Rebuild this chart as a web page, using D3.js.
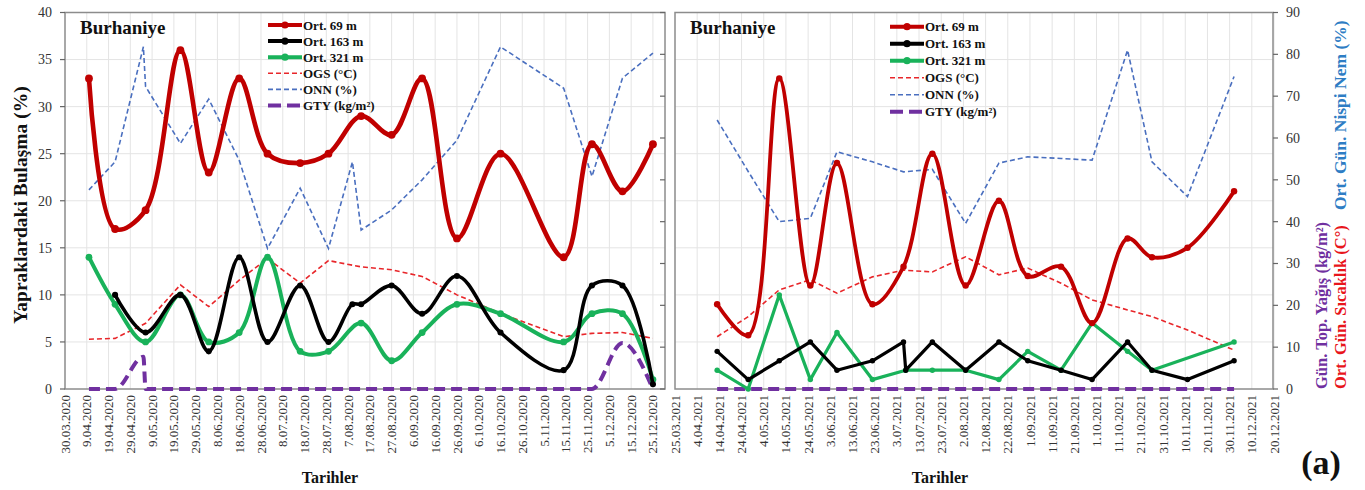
<!DOCTYPE html>
<html>
<head>
<meta charset="utf-8">
<script src="https://cdn.jsdelivr.net/npm/d3@7"></script>
<style>
  body { margin: 0; background: #fff; }
  svg { display: block; }
  text { font-family: "Liberation Serif", "Times New Roman", serif; }
</style>
</head>
<body>
<svg id="chart" width="1365" height="490"></svg>
<script>
// ---- Tick labels (every 10 days) ----
const leftTickLabels = ["30.03.2020","9.04.2020","19.04.2020","29.04.2020","9.05.2020","19.05.2020","29.05.2020","8.06.2020","18.06.2020","28.06.2020","8.07.2020","18.07.2020","28.07.2020","7.08.2020","17.08.2020","27.08.2020","6.09.2020","16.09.2020","26.09.2020","6.10.2020","16.10.2020","26.10.2020","5.11.2020","15.11.2020","25.11.2020","5.12.2020","15.12.2020","25.12.2020"];
const rightTickLabels = ["25.03.2021","4.04.2021","14.04.2021","24.04.2021","4.05.2021","14.05.2021","24.05.2021","3.06.2021","13.06.2021","23.06.2021","3.07.2021","13.07.2021","23.07.2021","2.08.2021","12.08.2021","22.08.2021","1.09.2021","11.09.2021","21.09.2021","1.10.2021","11.10.2021","21.10.2021","31.10.2021","10.11.2021","20.11.2021","30.11.2021","10.12.2021","20.12.2021"];
const primaryTicks = [0, 5, 10, 15, 20, 25, 30, 35, 40];
const secondaryTicks = [0, 10, 20, 30, 40, 50, 60, 70, 80, 90];

// ---- 2020 sampling dates and measurements ----
const dates2020 = ["10.04.2020","22.04.2020","5.05.2020","6.05.2020","22.05.2020","4.06.2020","18.06.2020","1.07.2020","16.07.2020","29.07.2020","9.08.2020","13.08.2020","27.08.2020","10.09.2020","26.09.2020","16.10.2020","14.11.2020","27.11.2020","11.12.2020","25.12.2020"];
const ort69_2020  = [33, 17, null, 19, 36, 23, 33, 25, 24, 25, null, 29, 27, 33, 16, 25, 14, 26, 21, 26];
const ort163_2020 = [null, 10, null, 6, 10, 4, 14, 5, 11, 5, 9, 9, 11, 8, 12, 6, 2, 11, 11, 0.5];
const ort321_2020 = [14, 9, null, 5, 10, 5, 6, 14, 4, 4, null, 7, 3, 6, 9, 8, 5, 8, 8, 1];
const ogs_2020    = [11.9, 12.1, null, 15.7, 24.9, 19.7, 26, 31.2, 25.3, 30.7, null, 29.2, 28.5, 26.9, 22.5, 18.1, 12.5, 13.3, 13.5, 12.1];
const onn_2020    = [47.6, 54.3, 81.8, 72.3, 58.7, 69.3, 54.7, 33.6, 48, 33.6, 54.3, 38, 42.8, 50, 59.5, 81.8, 71.9, 50.8, 74.3, 80.3];
const gty_2020    = [0, 0, 7.7, 0, 0, 0, 0, 0, 0, 0, null, 0, 0, 0, 0, 0, 0, 0, 11, 0];

// ---- 2021 sampling dates and measurements ----
const dates2021 = ["13.04.2021","27.04.2021","11.05.2021","25.05.2021","6.06.2021","22.06.2021","6.07.2021","7.07.2021","19.07.2021","3.08.2021","18.08.2021","31.08.2021","15.09.2021","29.09.2021","15.10.2021","26.10.2021","11.11.2021","2.12.2021"];
const ort69_2021  = [9, 5.7, 33, 11, 24, 9, 13, null, 25, 11, 20, 12, 13, 7, 16, 14, 15, 21];
const ort163_2021 = [4, 1, 3, 5, 2, 3, 5, 2, 5, 2, 5, 3, 2, 1, 5, 2, 1, 3];
const ort321_2021 = [2, 0, 10, 1, 6, 1, null, 2, 2, 2, 1, 4, 2, 7, 4, 2, null, 5];
const ogs_2021    = [12.5, 17.3, 23.7, 26.1, 22.9, 26.8, 28.4, null, 28.0, 31.6, 27.3, 28.9, 25.3, 21.3, 18.9, 17.3, 14.1, 9.3];
const onn_2021    = [64.3, 52, 40.0, 40.8, 56.7, 54.3, 51.9, null, 52.5, 39.6, 54.0, 55.5, 55.1, 54.7, 81.0, 54.3, 46.0, 74.7];
const gty_2021    = [0, 0, 0, 0, 0, 0, 0, null, 0, 0, 0, 0, 0, 0, 0, 0, 0, 0];

const legendLabels = ["Ort. 69 m", "Ort. 163 m", "Ort. 321 m", "OGS (°C)", "ONN (%)", "GTY (kg/m²)"];

// ---- helpers ----
const parseDate = s => { const [d, m, y] = s.split(".").map(Number); return new Date(Date.UTC(y, m - 1, d)); };
const svg = d3.select("#chart");

const plotTop = 12.5, plotBottom = 389;
const yP = d3.scaleLinear().domain([0, 40]).range([plotBottom, plotTop]);
const yS = d3.scaleLinear().domain([0, 90]).range([plotBottom, plotTop]);

const smooth = d3.curveCatmullRom.alpha(0.5);

function drawPanel(cfg) {
  const x = d3.scaleUtc().domain(cfg.domain.map(parseDate)).range([cfg.x0, cfg.x1]);
  const g = svg.append("g");
  const xr = cfg.frameRight;

  // gridlines
  g.append("g").selectAll("line").data(primaryTicks.slice(1)).join("line")
    .attr("x1", cfg.x0).attr("x2", xr).attr("y1", d => yP(d)).attr("y2", d => yP(d))
    .attr("stroke", "#e4e4e4").attr("stroke-width", 1);
  const tickDates = cfg.ticks.map(parseDate);
  g.append("g").selectAll("line").data(tickDates.slice(1)).join("line")
    .attr("x1", d => x(d)).attr("x2", d => x(d)).attr("y1", plotTop).attr("y2", plotBottom)
    .attr("stroke", "#e4e4e4").attr("stroke-width", 1);

  // frame
  g.append("rect").attr("x", cfg.x0).attr("y", plotTop).attr("width", xr - cfg.x0).attr("height", plotBottom - plotTop)
    .attr("fill", "none").attr("stroke", "#8c8c8c").attr("stroke-width", 1.5);

  // x tick labels
  g.append("g").selectAll("text").data(cfg.ticks).join("text")
    .attr("transform", d => `translate(${x(parseDate(d))},395) rotate(-90)`)
    .attr("text-anchor", "end").attr("dy", "0.35em")
    .attr("font-size", 13).attr("fill", "#333").text(d => d);

  // secondary axis ticks
  g.append("g").selectAll("line").data(secondaryTicks).join("line")
    .attr("x1", xr).attr("x2", xr + cfg.secTickDir * 5).attr("y1", d => yS(d)).attr("y2", d => yS(d))
    .attr("stroke", "#666").attr("stroke-width", 1.2);

  const dates = cfg.dates.map(parseDate);
  const pts = vals => vals.map((v, i) => ({ d: dates[i], v })).filter(p => p.v !== null);
  const lineFor = (scale, curve) => d3.line().x(p => x(p.d)).y(p => scale(p.v)).curve(curve);

  // weather series on secondary scale
  g.append("path").datum(pts(cfg.onn)).attr("d", lineFor(yS, d3.curveLinear))
    .attr("fill", "none").attr("stroke", "#4a6fbf").attr("stroke-width", 1.6).attr("stroke-dasharray", "5,3");
  g.append("path").datum(pts(cfg.ogs)).attr("d", lineFor(yS, d3.curveLinear))
    .attr("fill", "none").attr("stroke", "#e8262a").attr("stroke-width", 1.6).attr("stroke-dasharray", "5,3");
  g.append("path").datum(pts(cfg.gty)).attr("d", lineFor(yS, d3.curveMonotoneX))
    .attr("fill", "none").attr("stroke", "#7030a0").attr("stroke-width", 4).attr("stroke-dasharray", "11,6");

  // infection series on primary scale
  const series = [
    { vals: cfg.ort321, color: "#19b25a", w: cfg.w321, curve: cfg.curveOthers },
    { vals: cfg.ort163, color: "#000000", w: cfg.w163, curve: cfg.curveOthers },
    { vals: cfg.ort69,  color: "#c00000", w: cfg.w69,  curve: smooth }
  ];
  series.forEach(s => {
    const p = pts(s.vals);
    g.append("path").datum(p).attr("d", lineFor(yP, s.curve))
      .attr("fill", "none").attr("stroke", s.color).attr("stroke-width", s.w)
      .attr("stroke-linejoin", "round").attr("stroke-linecap", "round");
    g.append("g").selectAll("circle").data(p).join("circle")
      .attr("cx", q => x(q.d)).attr("cy", q => yP(q.v)).attr("r", s.w * 0.85)
      .attr("fill", s.color);
  });

  // location label
  g.append("text").attr("x", cfg.x0 + 15).attr("y", 34).attr("font-size", 19).attr("font-weight", "bold")
    .attr("fill", "#111").text("Burhaniye");

  // legend
  const lg = g.append("g");
  const lx = cfg.legendX, ly = cfg.legendY, step = cfg.legendStep;
  const styles = [
    { c: "#c00000", w: 4, marker: true },
    { c: "#000", w: 4, marker: true },
    { c: "#19b25a", w: 4, marker: true },
    { c: "#e8262a", w: 1.6, dash: "5,3" },
    { c: "#4a6fbf", w: 1.6, dash: "5,3" },
    { c: "#7030a0", w: 4, dash: "13,6" }
  ];
  legendLabels.forEach((lab, i) => {
    const yy = ly + i * step, st = styles[i];
    lg.append("line").attr("x1", lx).attr("x2", lx + 34).attr("y1", yy).attr("y2", yy)
      .attr("stroke", st.c).attr("stroke-width", st.w).attr("stroke-dasharray", st.dash || null);
    if (st.marker) lg.append("circle").attr("cx", lx + 17).attr("cy", yy).attr("r", 3.6).attr("fill", st.c);
    lg.append("text").attr("x", lx + 35).attr("y", yy).attr("dy", "0.35em")
      .attr("font-size", 13).attr("font-weight", "bold").attr("fill", "#111").text(lab);
  });

  // x axis title
  g.append("text").attr("x", cfg.titleX).attr("y", 483).attr("text-anchor", "middle")
    .attr("font-size", 16).attr("font-weight", "bold").attr("fill", "#111").text("Tarihler");
}

drawPanel({
  x0: 65, x1: 666, frameRight: 665, domain: ["30.03.2020", "31.12.2020"], ticks: leftTickLabels,
  dates: dates2020, ort69: ort69_2020, ort163: ort163_2020, ort321: ort321_2020,
  ogs: ogs_2020, onn: onn_2020, gty: gty_2020, w69: 4.6, w163: 3.6, w321: 4,
  curveOthers: smooth, secTickDir: -1,
  legendX: 268, legendY: 25, legendStep: 16.1, titleX: 330
});
drawPanel({
  x0: 675, x1: 1274, frameRight: 1273, domain: ["25.03.2021", "20.12.2021"], ticks: rightTickLabels,
  dates: dates2021, ort69: ort69_2021, ort163: ort163_2021, ort321: ort321_2021,
  ogs: ogs_2021, onn: onn_2021, gty: gty_2021, w69: 3.8, w163: 3.2, w321: 3.2,
  curveOthers: d3.curveLinear, secTickDir: 1,
  legendX: 890, legendY: 26.7, legendStep: 17, titleX: 940
});

// primary axis labels (left)
svg.append("g").selectAll("text").data(primaryTicks).join("text")
  .attr("x", 52).attr("y", d => yP(d)).attr("dy", "0.35em").attr("text-anchor", "end")
  .attr("font-size", 14).attr("fill", "#333").text(d => d);
svg.append("g").selectAll("line").data(primaryTicks).join("line")
  .attr("x1", 60).attr("x2", 65).attr("y1", d => yP(d)).attr("y2", d => yP(d))
  .attr("stroke", "#666").attr("stroke-width", 1.2);

// secondary axis labels (right)
svg.append("g").selectAll("text").data(secondaryTicks).join("text")
  .attr("x", 1286).attr("y", d => yS(d)).attr("dy", "0.35em").attr("text-anchor", "start")
  .attr("font-size", 14).attr("fill", "#333").text(d => d);

// axis titles
svg.append("text").attr("transform", "translate(27,205) rotate(-90)").attr("text-anchor", "middle")
  .attr("font-size", 19.5).attr("font-weight", "bold").attr("fill", "#111").text("Yapraklardaki Bulaşma (%)");
svg.append("text").attr("transform", "translate(1321,389) rotate(-90)").attr("text-anchor", "start")
  .attr("dy", "0.35em").attr("font-size", 16.5).attr("font-weight", "bold").attr("fill", "#7030a0")
  .text("Gün. Top. Yağış (kg/m²)");
svg.append("text").attr("transform", "translate(1340,389) rotate(-90)").attr("text-anchor", "start")
  .attr("dy", "0.35em").attr("font-size", 16.5).attr("font-weight", "bold").attr("fill", "#e8151b")
  .text("Ort. Gün. Sıcaklık (C°)");
svg.append("text").attr("transform", "translate(1340,210) rotate(-90)").attr("text-anchor", "start")
  .attr("dy", "0.35em").attr("font-size", 17.5).attr("font-weight", "bold").attr("fill", "#2e7dc4")
  .text("Ort. Gün. Nispi Nem (%)");

// panel tag
svg.append("text").attr("x", 1321).attr("y", 474).attr("text-anchor", "middle")
  .attr("font-size", 34).attr("font-weight", "bold").attr("fill", "#111").text("(a)");
</script>
</body>
</html>
